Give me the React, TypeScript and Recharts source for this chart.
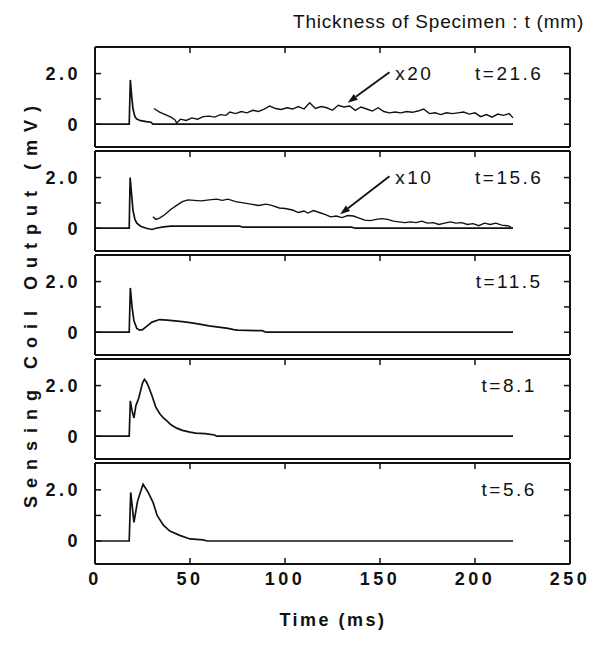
import { LineChart, Line, XAxis, YAxis, ReferenceDot, ReferenceLine } from "recharts";

const xTicks = [0, 50, 100, 150, 200, 250];
const yTicks = [0, 1, 2];
const thickness = ["t=21.6", "t=15.6", "t=11.5", "t=8.1", "t=5.6"];

// t = 21.6 mm
const time216 = [0, 18, 18.6, 19.2, 20, 21, 22, 24, 27, 29.5, 30.5, 220];
const out216 = [0, 0, 1.75, 1.2, 0.6, 0.3, 0.2, 0.14, 0.1, 0.08, 0, 0];
const time216x20 = [31, 34, 37, 40, 42, 43, 45, 48, 51, 54, 57, 60, 63, 66, 69, 71, 74, 77, 80, 83, 86, 89, 92, 95, 98, 101, 104, 107, 110, 113, 116, 119, 122, 125, 128, 131, 134, 137, 140, 143, 146, 149, 152, 155, 158, 161, 164, 167, 170, 173, 176, 179, 182, 185, 188, 191, 194, 197, 200, 203, 206, 209, 212, 215, 218, 220];
const out216x20 = [0.62, 0.48, 0.38, 0.28, 0.18, 0.05, 0.2, 0.15, 0.25, 0.2, 0.3, 0.32, 0.28, 0.38, 0.35, 0.48, 0.42, 0.5, 0.45, 0.55, 0.5, 0.6, 0.72, 0.62, 0.58, 0.65, 0.6, 0.7, 0.6, 0.85, 0.62, 0.7, 0.65, 0.55, 0.75, 0.68, 0.72, 0.55, 0.68, 0.6, 0.52, 0.65, 0.5, 0.45, 0.48, 0.45, 0.5, 0.47, 0.52, 0.6, 0.42, 0.45, 0.38, 0.45, 0.42, 0.45, 0.48, 0.4, 0.45, 0.3, 0.38, 0.28, 0.4, 0.35, 0.42, 0.25];

// t = 15.6 mm
const time156 = [0, 18, 18.5, 19.3, 20, 21, 22, 24, 27, 30, 32, 36, 40, 76, 78, 135, 137, 220];
const out156 = [0, 0, 2.0, 1.3, 0.7, 0.35, 0.2, 0.08, 0, -0.05, 0, 0.05, 0.08, 0.08, 0.04, 0.04, 0, 0];
const time156x10 = [30.5, 32, 34, 37, 40, 43, 46, 49, 52, 56, 60, 64, 67, 70, 74, 78, 82, 86, 90, 93, 97, 100, 104, 107, 110, 112, 115, 118, 121, 124, 127, 130, 133, 136, 139, 142, 145, 148, 151, 154, 157, 160, 163, 166, 169, 172, 175, 178, 181, 184, 187, 190, 193, 196, 199, 202, 205, 208, 211, 214, 217, 219];
const out156x10 = [0.45, 0.35, 0.4, 0.55, 0.75, 0.9, 1.05, 1.12, 1.1, 1.08, 1.12, 1.15, 1.1, 1.15, 1.05, 1.0, 0.95, 0.9, 0.95, 0.9, 0.8, 0.78, 0.72, 0.62, 0.68, 0.6, 0.7, 0.62, 0.55, 0.45, 0.48, 0.42, 0.5, 0.48, 0.4, 0.32, 0.3, 0.35, 0.38, 0.35, 0.28, 0.25, 0.22, 0.25, 0.22, 0.28, 0.2, 0.22, 0.15, 0.2, 0.25, 0.2, 0.22, 0.15, 0.18, 0.1, 0.2, 0.15, 0.2, 0.12, 0.1, 0.05];

// t = 11.5 mm
const time115 = [0, 18, 18.6, 19.5, 20.5, 22, 23.5, 25, 27, 30, 34, 38, 42, 46, 50, 55, 60, 65, 70, 73, 75, 88, 90, 220];
const out115 = [0, 0, 1.75, 1.0, 0.45, 0.15, 0.08, 0.1, 0.22, 0.4, 0.5, 0.48, 0.45, 0.42, 0.38, 0.32, 0.25, 0.2, 0.15, 0.1, 0.08, 0.06, 0, 0];

// t = 8.1 mm
const time81 = [0, 18, 18.6, 19.5, 20.5, 21.5, 23, 25, 26, 27, 28, 30, 32, 34, 36, 38, 40, 43, 46, 50, 53, 58, 63, 64, 220];
const out81 = [0, 0, 1.4, 1.0, 0.72, 1.2, 1.5, 2.1, 2.25, 2.15, 2.0, 1.6, 1.15, 0.9, 0.72, 0.6, 0.45, 0.32, 0.23, 0.16, 0.12, 0.1, 0.05, 0, 0];

// t = 5.6 mm
const time56 = [0, 18, 18.8, 20.5, 22.4, 25.3, 28, 30.6, 32.7, 36, 39.4, 44.6, 50, 57, 59, 220];
const out56 = [0, 0, 1.9, 0.73, 1.56, 2.22, 1.9, 1.5, 1.0, 0.62, 0.39, 0.22, 0.08, 0.04, 0, 0];

const toRows = (t: number[], v: number[]) => t.map((x, i) => ({ t: x, v: v[i] }));

const panels = [
  { main: toRows(time216, out216), mag: toRows(time216x20, out216x20), magLabel: "x20", arrow: [{ x: 155, y: 2.05 }, { x: 133, y: 0.85 }] },
  { main: toRows(time156, out156), mag: toRows(time156x10, out156x10), magLabel: "x10", arrow: [{ x: 155, y: 2.05 }, { x: 129, y: 0.55 }] },
  { main: toRows(time115, out115) },
  { main: toRows(time81, out81) },
  { main: toRows(time56, out56) },
];

const ink = "#111";

const Arrow = (props: any) => {
  const { x1, y1, x2, y2 } = props;
  const ang = Math.atan2(y2 - y1, x2 - x1);
  const len = 10;
  const w = 3.5;
  const bx = x2 - len * Math.cos(ang);
  const by = y2 - len * Math.sin(ang);
  const px = -Math.sin(ang) * w;
  const py = Math.cos(ang) * w;
  return (
    <g>
      <line x1={x1} y1={y1} x2={bx} y2={by} stroke={ink} strokeWidth={1.8} />
      <polygon points={`${x2},${y2} ${bx + px},${by + py} ${bx - px},${by - py}`} fill={ink} />
    </g>
  );
};

const textAt = (label: string) => (p: any) => (
  <text x={p.cx} y={p.cy} textAnchor="middle" dominantBaseline="central" fill={ink} fontSize={19} letterSpacing={2.5}>
    {label}
  </text>
);

const tickStyle = { fill: ink, fontSize: 18, fontWeight: "bold", letterSpacing: 3.5 };

const PANEL_TOP = 45;
const PANEL_STEP = 104;
const PANEL_H = 100;

export default function App() {
  return (
    <div
      style={{
        position: "absolute",
        left: 0,
        top: 0,
        width: 609,
        height: 647,
        background: "#fff",
        fontFamily: '"Liberation Sans", Arial, sans-serif',
        color: ink,
      }}
    >
      <div style={{ position: "absolute", left: 293, top: 11, fontSize: 19, letterSpacing: 0.8, whiteSpace: "nowrap" }}>
        Thickness of Specimen : t (mm)
      </div>
      {panels.map((p, i) => {
        const last = i === panels.length - 1;
        return (
          <div key={i} style={{ position: "absolute", left: 0, top: PANEL_TOP + i * PANEL_STEP }}>
            <LineChart
              width={609}
              height={PANEL_H + 4 + (last ? 40 : 0)}
              margin={{ top: 1, right: 38, bottom: last ? 40 : 1, left: 35 }}
            >
              <XAxis
                dataKey="t"
                type="number"
                domain={[0, 250]}
                ticks={xTicks}
                allowDataOverflow
                height={1}
                tickSize={-6}
                tickMargin={14}
                axisLine={{ stroke: ink, strokeWidth: 2 }}
                tickLine={{ stroke: ink, strokeWidth: 1.5 }}
                tick={last ? tickStyle : false}
                interval={0}
              />
              <XAxis
                xAxisId="top"
                orientation="top"
                dataKey="t"
                type="number"
                domain={[0, 250]}
                ticks={xTicks}
                allowDataOverflow
                height={1}
                tickSize={-6}
                axisLine={{ stroke: ink, strokeWidth: 2 }}
                tickLine={{ stroke: ink, strokeWidth: 1.5 }}
                tickFormatter={() => ""}
                interval={0}
              />
              <YAxis
                type="number"
                domain={[-0.9, 3.05]}
                ticks={yTicks}
                allowDataOverflow
                width={60}
                tickSize={-6}
                tickMargin={20}
                axisLine={{ stroke: ink, strokeWidth: 2 }}
                tickLine={{ stroke: ink, strokeWidth: 1.5 }}
                tick={tickStyle}
                tickFormatter={(v: number) => (v === 2 ? "2.0" : v === 0 ? "0" : "")}
                interval={0}
              />
              <YAxis
                yAxisId="right"
                orientation="right"
                type="number"
                domain={[-0.9, 3.05]}
                ticks={yTicks}
                allowDataOverflow
                width={1}
                tickSize={-6}
                axisLine={{ stroke: ink, strokeWidth: 2 }}
                tickLine={{ stroke: ink, strokeWidth: 1.5 }}
                tickFormatter={() => ""}
                interval={0}
              />
              <Line data={p.main} dataKey="v" type="linear" stroke={ink} strokeWidth={1.7} dot={false} isAnimationActive={false} />
              {p.mag && (
                <Line data={p.mag} dataKey="v" type="linear" stroke={ink} strokeWidth={1.4} dot={false} isAnimationActive={false} />
              )}
              {p.arrow && <ReferenceLine segment={p.arrow} shape={Arrow} ifOverflow="visible" />}
              {p.magLabel && <ReferenceDot x={168} y={2.0} r={0} shape={textAt(p.magLabel)} ifOverflow="visible" />}
              <ReferenceDot x={218} y={2.0} r={0} shape={textAt(thickness[i])} ifOverflow="visible" />
            </LineChart>
          </div>
        );
      })}
      <div
        style={{
          position: "absolute",
          left: 31,
          top: 303,
          transform: "translate(-50%, -50%) rotate(-90deg)",
          whiteSpace: "nowrap",
          fontSize: 18,
          fontWeight: "bold",
          letterSpacing: 8,
        }}
      >
        Sensing Coil Output (mV)
      </div>
      <div
        style={{
          position: "absolute",
          left: 333,
          top: 610,
          transform: "translateX(-50%)",
          whiteSpace: "nowrap",
          fontSize: 18,
          fontWeight: "bold",
          letterSpacing: 2.5,
        }}
      >
        Time (ms)
      </div>
    </div>
  );
}
